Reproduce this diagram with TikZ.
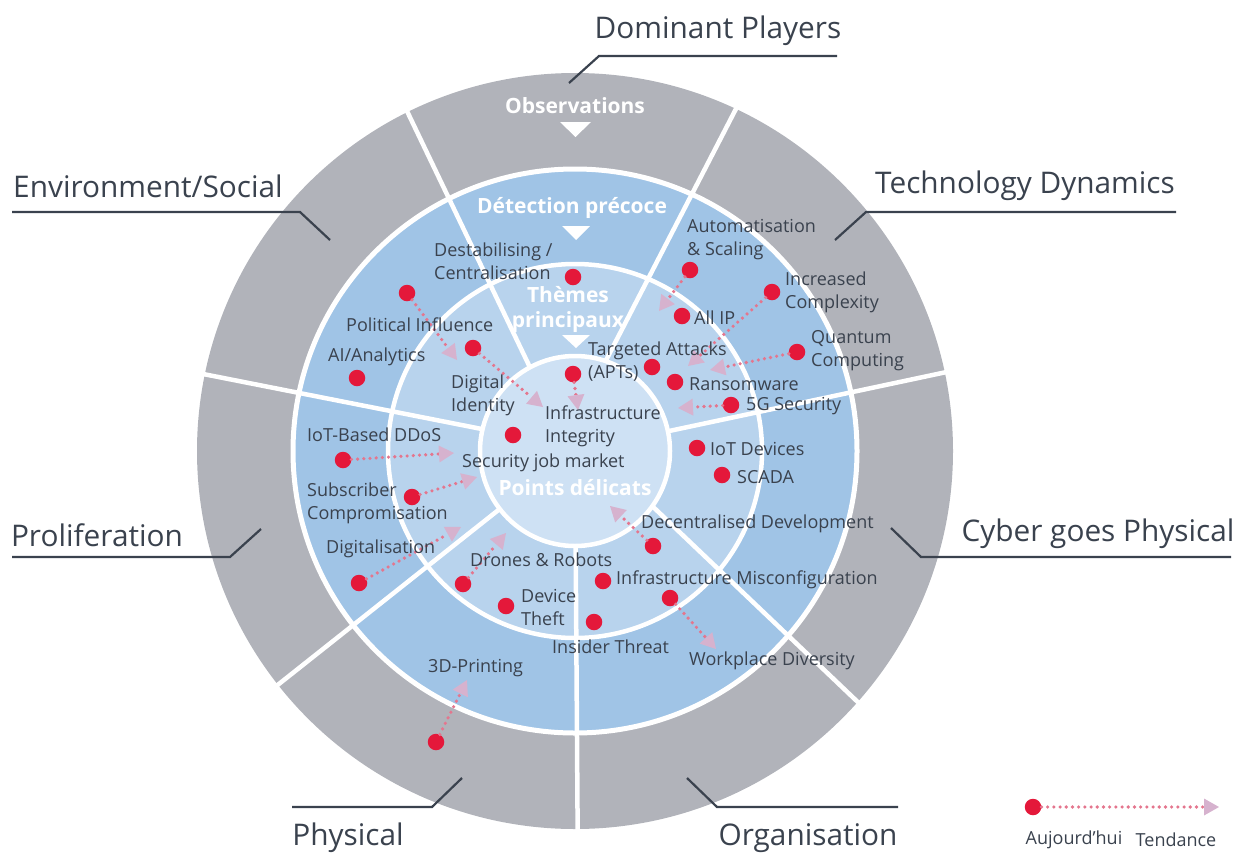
\documentclass[tikz,border=0pt]{standalone}
\usepackage{fontspec}
\setmainfont{Open Sans}
\usetikzlibrary{arrows.meta}

\definecolor{ringgray}{RGB}{177,179,186}
\definecolor{ringblue}{RGB}{160,196,230}
\definecolor{ringlight}{RGB}{184,211,237}
\definecolor{corelight}{RGB}{206,225,244}
\definecolor{dotred}{RGB}{228,24,58}
\definecolor{trailpink}{RGB}{228,118,142}
\definecolor{tippink}{RGB}{214,178,206}
\definecolor{labelgray}{RGB}{58,66,78}

\begin{document}
\begin{tikzpicture}[x=1pt,y=-1pt,
  dot/.style={circle,fill=dotred,inner sep=0pt,minimum size=16.5pt},
  trend/.style={draw=trailpink,line width=3.6pt,line cap=round,dash pattern=on 0pt off 6.2pt,
    -{Triangle[length=15pt,width=17pt,color=tippink,line width=0pt]}},
  item/.style={text=labelgray,font=\fontsize{18}{23}\selectfont,align=left,inner sep=0pt,anchor=west},
  head/.style={text=white,font=\fontsize{21}{25}\selectfont\bfseries,align=center,inner sep=0pt},
  sector/.style={text=labelgray,font=\fontsize{29.8}{34}\selectfont,inner sep=0pt},
  leader/.style={draw=labelgray,line width=2.2pt},
  divider/.style={draw=white,line width=4.5pt}]
\useasboundingbox (0,0) rectangle (1242,852);

% rings
\begin{scope}[shift={(575,451)},y=1pt]
\fill[ringgray] (0,0) circle (378);
\draw[fill=ringblue,draw=white,line width=5pt] (0,0) circle (282);
\draw[fill=ringlight,draw=white,line width=4.5pt] (0,0) circle (187);
\draw[fill=corelight,draw=white,line width=4.5pt] (0,0) circle (95);
% sector borders
\foreach \a/\b in {116.3/118.3, 64.8/71.2, 12/12, -41.6/-35.5, 270.4/270.4, 218.2/217.6, 168.3/166.7}
  \draw[divider] (\a:379) -- (\b:95);
\end{scope}

% ring titles
\node[head] (obs) at (575,106) {Observations};
\fill[white] (560,122) -- (591,122) -- (575.5,137) -- cycle;
\node[head] (det) at (572,208) {Détection précoce};
\fill[white] (562,226) -- (590,226) -- (576,240) -- cycle;
\node[head] (themes) at (568,309) {Thèmes\\principaux};
\fill[white] (562,335) -- (590,335) -- (576,348) -- cycle;
\node[head] (points) at (575,488) {Points délicats};

% sector labels and leaders
\node[sector] (dom) at (718,31) {Dominant Players};
\draw[leader] (569,83) -- (599,56) -- (837,56);
\node[sector] (tech) at (1025,186) {Technology Dynamics};
\draw[leader] (835,240) -- (866,212) -- (1176,212);
\node[sector] (env) at (148,186) {Environment/Social};
\draw[leader] (330,240) -- (300,212) -- (12,212);
\node[sector] (prolif) at (97,535) {Proliferation};
\draw[leader] (261,529) -- (230,557) -- (12,557);
\node[sector] (phys) at (348,838) {Physical};
\draw[leader] (462,778) -- (432,807) -- (292,807);
\node[sector] (orga) at (808,838) {Organisation};
\draw[leader] (687,778) -- (717,807) -- (898,807);
\node[sector] (cyber) at (1098,534) {Cyber goes Physical};
\draw[leader] (891,528) -- (921,557) -- (1231,557);

% dots
\node[dot] (dDestab) at (573,277) {};
\node[dot] (dAuto) at (690,270) {};
\node[dot] (dCompl) at (772,292) {};
\node[dot] (dAllip) at (682,316) {};
\node[dot] (dQuant) at (797,352) {};
\node[dot] (dTarget) at (652,367) {};
\node[dot] (dApt) at (573,374) {};
\node[dot] (dRansom) at (675,382) {};
\node[dot] (d5g) at (731,405) {};
\node[dot] (dPolit) at (407,293) {};
\node[dot] (dAi) at (357,378) {};
\node[dot] (dDigid) at (473,348) {};
\node[dot] (dInteg) at (513,435) {};
\node[dot] (dDdos) at (343,460) {};
\node[dot] (dSubs) at (412,497) {};
\node[dot] (dDigit) at (359,583) {};
\node[dot] (dDrone) at (463,584) {};
\node[dot] (dTheft) at (506,606) {};
\node[dot] (dInsid) at (594,622) {};
\node[dot] (d3d) at (436,742) {};
\node[dot] (dIotdev) at (697,448) {};
\node[dot] (dScada) at (722,475) {};
\node[dot] (dDecen) at (653,546) {};
\node[dot] (dMisconf) at (603,581) {};
\node[dot] (dWork) at (670,598) {};

% trend targets
\coordinate (tAuto) at (659,311);
\coordinate (tCompl) at (688,366);
\coordinate (tQuant) at (710,370);
\coordinate (t5g) at (678,408);
\coordinate (tPolit) at (457,360);
\coordinate (tDigid) at (543,407);
\coordinate (tApt) at (578,410);
\coordinate (tDdos) at (454,453);
\coordinate (tSubs) at (477,477);
\coordinate (tDigit) at (461,527);
\coordinate (tDrone) at (506,533);
\coordinate (t3d) at (467,680);
\coordinate (tDecen) at (610,506);
\coordinate (tWork) at (716,649);

\foreach \s/\t in {dAuto/tAuto, dCompl/tCompl, dQuant/tQuant, d5g/t5g, dPolit/tPolit, dDigid/tDigid,
  dApt/tApt, dDdos/tDdos, dSubs/tSubs, dDigit/tDigit, dDrone/tDrone, d3d/t3d, dDecen/tDecen, dWork/tWork}
  \draw[trend] (\s) -- (\t);

% item labels
\node[item] (lDestab) at (434,261.5) {Destabilising /\\Centralisation};
\node[item] (lAuto) at (687,240) {Automatisation\\\& Scaling};
\node[item] (lCompl) at (785,292) {Increased\\Complexity};
\node[item] (lAllip) at (694,318) {All IP};
\node[item] (lQuant) at (811,351) {Quantum\\Computing};
\node[item] (lTarget) at (588,361.5) {Targeted Attacks\\(APTs)};
\node[item] (lRansom) at (689,384) {Ransomware};
\node[item] (l5g) at (746,406.5) {5G Security};
\node[item] (lPolit) at (346,324.5) {Political Influence};
\node[item] (lAi) at (328,356.5) {AI/Analytics};
\node[item] (lDigid) at (451,395.5) {Digital\\Identity};
\node[item] (lInteg) at (545,426.5) {Infrastructure\\Integrity};
\node[item] (lJob) at (462,462.5) {Security job market};
\node[item] (lDdos) at (307,434.5) {IoT-Based DDoS};
\node[item] (lSubs) at (307,503.5) {Subscriber\\Compromisation};
\node[item] (lDigit) at (326,548.5) {Digitalisation};
\node[item] (lDrone) at (470,559.5) {Drones \& Robots};
\node[item] (lTheft) at (521,607.5) {Device\\Theft};
\node[item] (lInsid) at (552,646.5) {Insider Threat};
\node[item] (l3d) at (428,668.5) {3D-Printing};
\node[item] (lIotdev) at (710,448.5) {IoT Devices};
\node[item] (lScada) at (737,477) {SCADA};
\node[item] (lDecen) at (641,523.5) {Decentralised Development};
\node[item] (lMisconf) at (616,579.5) {Infrastructure Misconfiguration};
\node[item] (lWork) at (689,660.5) {Workplace Diversity};

% legend
\node[dot] (legDot) at (1033,807) {};
\coordinate (legTip) at (1219,807);
\draw[trend] (legDot) -- (legTip);
\node[item,anchor=center] (legNow) at (1074,840) {Aujourd'hui};
\node[item,anchor=center] (legTrend) at (1176,840) {Tendance};
\end{tikzpicture}
\end{document}
